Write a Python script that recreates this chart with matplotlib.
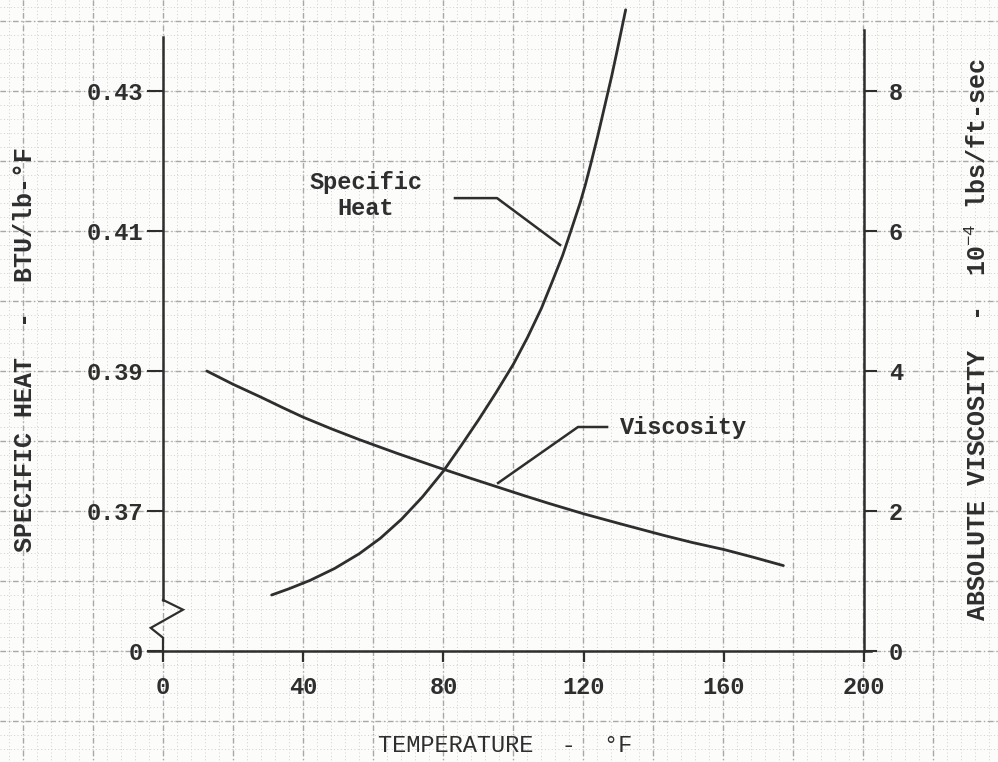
import numpy as np
import matplotlib
matplotlib.use("Agg")
import matplotlib.pyplot as plt

plt.rcParams['font.family'] = ['Liberation Mono', 'DejaVu Sans Mono']
plt.rcParams['mathtext.fontset'] = 'custom'
plt.rcParams['mathtext.rm'] = 'Liberation Mono'
plt.rcParams['mathtext.it'] = 'Liberation Mono'
plt.rcParams['mathtext.bf'] = 'Liberation Mono:bold'

# ---- data -------------------------------------------------------------
# specific heat, BTU/lb-F
sh_temp = [31, 36, 42, 49, 56, 62, 68, 74, 80, 85, 90, 95, 100, 104, 108,
           111, 114, 116.5, 119, 120.5, 122, 124, 126, 128, 129.5, 131, 132]
sh_value = [0.3580, 0.3589, 0.3601, 0.3618, 0.3639, 0.3661, 0.3688, 0.3720,
            0.3757, 0.3793, 0.3830, 0.3869, 0.3910, 0.3948, 0.3990, 0.4027,
            0.4065, 0.4102, 0.4140, 0.4166, 0.4195, 0.4235, 0.4278, 0.4321,
            0.4356, 0.4392, 0.4416]

# absolute viscosity, 10^-4 lbs/ft-sec
visc_temp = [12.5, 20, 28, 34, 40, 48, 56, 67, 78, 87, 95, 103, 110, 120,
             131, 143, 151, 160, 168, 177]
visc_value = [4.00, 3.81, 3.625, 3.48, 3.34, 3.175, 3.02, 2.82, 2.63, 2.48,
              2.35, 2.22, 2.11, 1.96, 1.81, 1.65, 1.55, 1.45, 1.345, 1.22]

temp_ticks = [0, 40, 80, 120, 160, 200]
sh_ticks = [0.35, 0.37, 0.39, 0.41, 0.43]
sh_tick_labels = ['0', '0.37', '0.39', '0.41', '0.43']
visc_ticks = [0, 2, 4, 6, 8]

INK = '#2e2e2e'
W, H = 998, 762

fig = plt.figure(figsize=(W / 100, H / 100), dpi=100)
fig.patch.set_facecolor('#fcfcfb')

# ---- graph-paper background --------------------------------------------
bg = fig.add_axes([0, 0, 1, 1], zorder=-5)
bg.set_xlim(0, W)
bg.set_ylim(H, 0)
bg.axis('off')
x0, y0, step = 163, 651, 70
minor = step / 5
xs_minor = np.arange(x0 - 12 * step, W + 1, minor)
ys_minor = np.arange(y0 + 2 * step, -1, -minor)
xs_minor = xs_minor[(xs_minor >= 0) & (xs_minor <= W)]
ys_minor = ys_minor[(ys_minor >= 0) & (ys_minor <= H)]
bg.vlines(xs_minor, 0, H, colors='#d0d0d0', lw=0.7, linestyles=(0, (1, 2.5)))
bg.hlines(ys_minor, 0, W, colors='#d0d0d0', lw=0.7, linestyles=(0, (1, 2.5)))
xs_major = np.arange(x0 - 2 * step, W + 1, step)
ys_major = np.arange(y0 + step, -1, -step)
bg.vlines(xs_major, 0, H, colors='#a8a8a8', lw=1.0, linestyles=(0, (4, 2, 1, 2)))
bg.hlines(ys_major, 0, W, colors='#a8a8a8', lw=1.0, linestyles=(0, (4, 2, 1, 2)))

# ---- main axes ---------------------------------------------------------
left, right = 163 / W, 864 / W
bottom = 1 - 651 / H
ax = fig.add_axes([left, bottom, right - left, 1 - bottom])
ax.patch.set_visible(False)
ax2 = ax.twinx()
ax2.patch.set_visible(False)

vmax = 651 / 70.0
ax.set_xlim(0, 200)
ax2.set_ylim(0, vmax)
ax.set_ylim(0.35, 0.35 + vmax / 100)

for a in (ax, ax2):
    for s in a.spines.values():
        s.set_color(INK)
        s.set_linewidth(1.8)
    a.spines['top'].set_visible(False)

ax2.spines['left'].set_visible(False)
ax.spines['right'].set_visible(False)
ax2.spines['bottom'].set_visible(False)
ax.spines['bottom'].set_bounds(-4.3, 202)
ax.spines['left'].set_bounds(0.35 + 0.0073, 0.35 + 0.0877)
ax2.spines['right'].set_bounds(0, 8.87)

ax.plot(sh_temp, sh_value, color=INK, lw=2.0, clip_on=False,
        solid_capstyle='round', solid_joinstyle='round')
ax2.plot(visc_temp, visc_value, color=INK, lw=2.0, clip_on=False,
         solid_capstyle='round', solid_joinstyle='round')

# axis break on the left scale
ax2.plot([0, 0, -3.5, 5.7, 0], [0, 0.19, 0.33, 0.59, 0.73], color=INK, lw=1.6,
         clip_on=False, solid_joinstyle='miter')

fs = 17
ax.set_xticks(temp_ticks)
ax.set_xticklabels([str(t) for t in temp_ticks])
ax.tick_params(axis='x', direction='out', length=8, width=1.6, color=INK,
               labelsize=fs, labelcolor=INK, pad=10)
ax.set_yticks(sh_ticks)
ax.set_yticklabels(sh_tick_labels)
ax.tick_params(axis='y', direction='out', length=11.5, width=1.5, color=INK,
               labelsize=fs, labelcolor=INK, pad=3)
ax2.set_yticks(visc_ticks)
ax2.set_yticklabels([str(v) for v in visc_ticks])
ax2.tick_params(axis='y', direction='out', length=9, width=1.5, color=INK,
                labelsize=fs, labelcolor=INK, pad=9)
for lab in ax.get_xticklabels() + ax.get_yticklabels() + ax2.get_yticklabels():
    lab.set_fontweight('bold')

# curve labels with leader lines
ax2.text(57.9, 6.51, 'Specific\nHeat', ha='center', va='center', fontsize=fs,
         fontweight='bold', color=INK, linespacing=1.15)
ax2.plot([83.3, 95.3, 113.3], [6.47, 6.47, 5.8], color=INK, lw=1.8, clip_on=False)
ax2.text(130.4, 3.19, 'Viscosity', ha='left', va='center', fontsize=fs,
         fontweight='bold', color=INK)
ax2.plot([95.6, 118.4, 126.7], [2.4, 3.2, 3.2], color=INK, lw=1.8, clip_on=False)

# axis titles
fig.text(25 / W, 1 - 349 / H, 'SPECIFIC HEAT  -  BTU/lb-\u00b0F', rotation=90,
         ha='center', va='center', fontsize=18, fontweight='bold', color=INK)
fig.text(978 / W, 1 - 340 / H, 'ABSOLUTE VISCOSITY  -  10$^{-4}$ lbs/ft-sec',
         rotation=90, ha='center', va='center', fontsize=18, fontweight='bold',
         color=INK)
fig.text(505 / W, 1 - 745 / H, 'TEMPERATURE  -  \u00b0F', ha='center', va='center',
         fontsize=fs, color=INK)

fig.savefig('out.png', dpi=100, facecolor=fig.get_facecolor())
